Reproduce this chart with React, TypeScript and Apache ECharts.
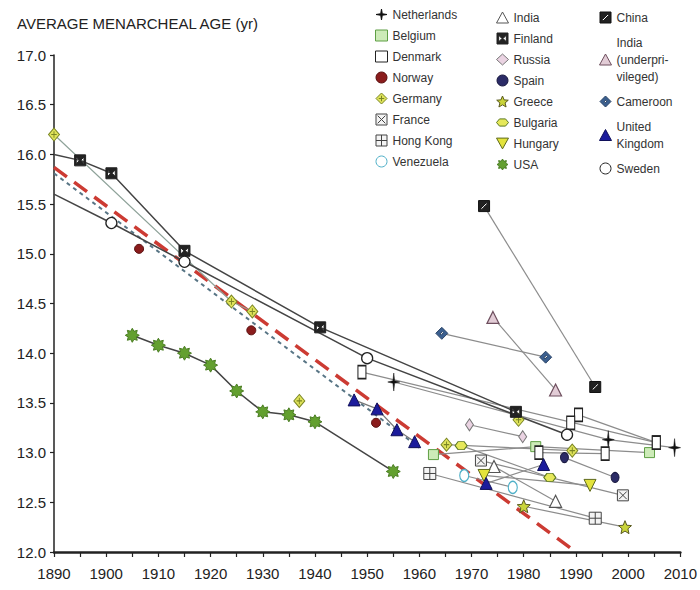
import React, { useEffect, useRef } from 'react';
import * as echarts from 'echarts';

// ---- data: [year, average menarcheal age] ----
const netherlands = [[1955.1, 13.71], [1996.2, 13.13], [2008.9, 13.05]];
const belgium = [[1962.7, 12.98], [1982.3, 13.06], [2004.1, 13.0]];
const denmarkA = [[1949, 13.81], [2005.4, 13.1]];
const denmarkB = [[1982.9, 13.0], [1995.6, 12.99]];
const denmarkC = [[1990.5, 13.38], [2005.4, 13.1]];
const denmarkD = [[1989, 13.3]];
const norway = [[1906.3, 15.05], [1927.8, 14.23], [1951.7, 13.3]];
const germanyA = [[1890, 16.2], [1924, 14.52], [1928, 14.42]];
const germanyB = [[1937, 13.52]];
const germanyC = [[1965.2, 13.08], [1989.3, 13.02]];
const germanyD = [[1979, 13.33]];
const france = [[1971.8, 12.92], [1999, 12.57]];
const hongKong = [[1962, 12.79], [1993.7, 12.34]];
const venezuela = [[1968.6, 12.77], [1977.9, 12.65]];
const india = [[1974.3, 12.86], [1986.1, 12.51]];
const finland = [[1895, 15.94], [1901, 15.81], [1915, 15.03], [1941, 14.26], [1978.5, 13.41]];
const finlandLead = [[1890, 16.0], [1895, 15.94]];
const russia = [[1969.6, 13.28], [1979.8, 13.16]];
const spain = [[1987.8, 12.95], [1997.5, 12.75]];
const greece = [[1980, 12.46], [1999.4, 12.25]];
const bulgaria = [[1968, 13.07], [1985, 12.75]];
const hungary = [[1972.4, 12.77], [1992.7, 12.67]];
const usa = [[1905, 14.18], [1910, 14.08], [1915, 14.0], [1920, 13.88], [1925, 13.62], [1930, 13.41], [1935, 13.38], [1940, 13.31], [1955, 12.81]];
const china = [[1972.4, 15.48], [1993.7, 13.66]];
const indiaUnder = [[1974.1, 14.36], [1986.1, 13.63]];
const cameroon = [[1964.3, 14.2], [1984.2, 13.96]];
const ukA = [[1947.5, 13.53], [1951.9, 13.44], [1955.7, 13.23], [1959.1, 13.11]];
const ukB = [[1972.8, 12.69], [1983.8, 12.88]];
const sweden = [[1901, 15.31], [1915, 14.92], [1950, 13.95], [1988.3, 13.18]];
const swedenLead = [[1890, 15.6], [1901, 15.31]];
const redTrend = [[1890, 15.87], [1990, 12.0]];
const blueTrend = [[1890, 15.81], [1960, 13.05]];

const legendCol1 = ['Netherlands', 'Belgium', 'Denmark', 'Norway', 'Germany', 'France', 'Hong Kong', 'Venezuela'];
const legendCol2 = ['India', 'Finland', 'Russia', 'Spain', 'Greece', 'Bulgaria', 'Hungary', 'USA'];
const legendCol3 = ['China', 'India (underprivileged)', 'Cameroon', 'United Kingdom', 'Sweden'];

const FONT = "'Liberation Sans', Arial, sans-serif";

function starPath(n: number, inner: number): string {
  const pts: string[] = [];
  for (let i = 0; i < 2 * n; i++) {
    const a = -Math.PI / 2 + (i * Math.PI) / n;
    const r = i % 2 === 0 ? 10 : 10 * inner;
    pts.push(`${(10 + r * Math.cos(a)).toFixed(2)} ${(10 + r * Math.sin(a)).toFixed(2)}`);
  }
  return 'path://M' + pts.join(' L') + ' Z';
}

const SYM: Record<string, { symbol: string; size: number | number[]; fill: string; stroke: string; bw?: number }> = {
  Netherlands: { symbol: 'path://M5 0 L5.7 4.3 L10 5 L5.7 5.7 L5 10 L4.3 5.7 L0 5 L4.3 4.3 Z', size: [12, 18], fill: '#111', stroke: '#111', bw: 0.5 },
  Belgium: { symbol: 'rect', size: 10, fill: '#cdebb8', stroke: '#5f9f45' },
  Denmark: { symbol: 'rect', size: [8, 13], fill: '#fff', stroke: '#222', bw: 1.3 },
  Norway: { symbol: 'circle', size: 9, fill: '#8a1c1c', stroke: '#5a1010' },
  Germany: { symbol: 'path://M5 0 L10 5 L5 10 L0 5 Z M5 2.5 V7.5 M2.5 5 H7.5', size: [11, 13], fill: '#dfe35a', stroke: '#7a8524' },
  France: { symbol: 'path://M0 0 H10 V10 H0 Z M1.5 1.5 L8.5 8.5 M8.5 1.5 L1.5 8.5', size: 11, fill: '#f4f4f4', stroke: '#444' },
  'Hong Kong': { symbol: 'path://M0 0 H10 V10 H0 Z M5 0 V10 M0 5 H10', size: 12, fill: '#f4f4f4', stroke: '#444' },
  Venezuela: { symbol: 'circle', size: [9, 12], fill: '#fff', stroke: '#4fb0c8', bw: 1.3 },
  India: { symbol: 'triangle', size: 12, fill: '#fff', stroke: '#555', bw: 1.2 },
  Finland: { symbol: 'path://M0 0 H10 V10 H0 Z M1.5 2 L1.5 8 L4.5 5 Z M8.5 2 L5.5 5 L8.5 8 Z', size: 11, fill: '#222', stroke: '#222' },
  Russia: { symbol: 'diamond', size: [8, 12], fill: '#ead3e2', stroke: '#777' },
  Spain: { symbol: 'circle', size: [8, 10], fill: '#2b2b66', stroke: '#1a1a40' },
  Greece: { symbol: starPath(5, 0.45), size: 13, fill: '#c9d43a', stroke: '#5a5a20' },
  Bulgaria: { symbol: 'path://M2.5 0 H7.5 L10 3 L7.5 6 H2.5 L0 3 Z', size: [12, 8], fill: '#e6e85a', stroke: '#5d7a20' },
  Hungary: { symbol: 'path://M0 0 H10 L5 9 Z', size: 12, fill: '#e3e33c', stroke: '#5f6a1c' },
  USA: { symbol: starPath(8, 0.62), size: 14, fill: '#63a02f', stroke: '#4a7d22' },
  China: { symbol: 'path://M0 0 H10 V10 H0 Z M2 7 L3 8 L8 3 L7 2 Z', size: 11, fill: '#222', stroke: '#111' },
  'India (underprivileged)': { symbol: 'triangle', size: 12, fill: '#e2ccd6', stroke: '#6e4f5e', bw: 1.2 },
  Cameroon: { symbol: 'path://M5 0 L10 5 L5 10 L0 5 Z M3.5 5.5 L4.5 6.5 L6.5 4.5 L5.5 3.5 Z', size: 12, fill: '#3b5f8f', stroke: '#2a4466' },
  'United Kingdom': { symbol: 'triangle', size: 12, fill: '#1c1c9c', stroke: '#10105a' },
  Sweden: { symbol: 'circle', size: 11, fill: '#fff', stroke: '#222', bw: 1.3 },
};

function country(name: string, data: number[][], lineColor = '#8c8c8c', lineWidth = 1.2): any {
  const s = SYM[name];
  return {
    type: 'line',
    name,
    data,
    symbol: s.symbol,
    symbolSize: s.size,
    symbolKeepAspect: false,
    itemStyle: { color: s.fill, borderColor: s.stroke, borderWidth: s.bw ?? 1 },
    lineStyle: { color: lineColor, width: lineWidth },
    emphasis: { disabled: true },
    z: 3,
  };
}

function lead(data: number[][], color: string, width: number): any {
  return { type: 'line', data, symbol: 'none', lineStyle: { color, width }, z: 2, emphasis: { disabled: true } };
}

function legendData(names: string[]) {
  return names.map((n) => ({ name: n, icon: SYM[n].symbol }));
}

function legendLabel(name: string): string {
  if (name === 'India (underprivileged)') return 'India\n(underpri-\nvileged)';
  if (name === 'United Kingdom') return 'United\nKingdom';
  return name;
}

const legendBase = {
  orient: 'vertical',
  padding: 0,
  itemWidth: 12,
  itemHeight: 11,
  selectedMode: false,
  formatter: legendLabel,
  textStyle: { fontFamily: FONT, fontSize: 12, lineHeight: 17, color: '#333' },
  itemStyle: { borderWidth: 1 },
};

export default function App() {
  const ref = useRef<HTMLDivElement>(null);
  useEffect(() => {
    const chart = echarts.init(ref.current!, null, { renderer: 'svg' });
    const option: any = {
      animation: false,
      backgroundColor: '#fff',
      title: {
        text: 'AVERAGE MENARCHEAL AGE (yr)',
        left: 12,
        top: 11,
        textStyle: { fontFamily: FONT, fontSize: 15, fontWeight: 'normal', color: '#222' },
      },
      legend: [
        { ...legendBase, left: 375, top: 6, itemGap: 4, data: legendData(legendCol1) },
        { ...legendBase, left: 496, top: 9, itemGap: 4, data: legendData(legendCol2) },
        { ...legendBase, left: 599, top: 9, itemGap: 8, data: legendData(legendCol3) },
      ],
      grid: { left: 54, right: 14, top: 55, bottom: 38 },
      xAxis: {
        type: 'value',
        min: 1890,
        max: 2010,
        interval: 5,
        axisLine: { show: true, lineStyle: { color: '#222', width: 2.5 } },
        axisTick: { show: true, length: 5, lineStyle: { color: '#222', width: 1.2 } },
        splitLine: { show: false },
        axisLabel: {
          fontFamily: FONT,
          fontSize: 15,
          color: '#222',
          margin: 14,
          formatter: (v: number) => (v % 10 === 0 ? String(v) : ''),
        },
      },
      yAxis: {
        type: 'value',
        min: 12,
        max: 17,
        interval: 0.5,
        axisLine: { show: true, lineStyle: { color: '#222', width: 1.5 } },
        axisTick: { show: true, length: 4, lineStyle: { color: '#222', width: 1.2 } },
        splitLine: { show: false },
        axisLabel: { fontFamily: FONT, fontSize: 15, color: '#222', margin: 8, formatter: (v: number) => v.toFixed(1) },
      },
      series: [
        { type: 'line', data: redTrend, symbol: 'none', lineStyle: { color: '#cc3b33', width: 3.5, type: [16, 9] }, z: 1, emphasis: { disabled: true } },
        { type: 'line', data: blueTrend, symbol: 'none', lineStyle: { color: '#587585', width: 2, type: [4, 4] }, z: 1, emphasis: { disabled: true } },
        lead(finlandLead, '#444', 1.5),
        lead(swedenLead, '#444', 1.5),
        country('Netherlands', netherlands, '#8c8c8c'),
        country('Belgium', belgium),
        country('Denmark', denmarkA),
        country('Denmark', denmarkB),
        country('Denmark', denmarkC),
        country('Denmark', denmarkD),
        { ...country('Norway', norway), lineStyle: { width: 0, opacity: 0 } },
        country('Germany', germanyA, '#8fa39a', 1.2),
        country('Germany', germanyB),
        country('Germany', germanyC),
        country('Germany', germanyD),
        country('France', france),
        country('Hong Kong', hongKong),
        country('Venezuela', venezuela),
        country('India', india),
        country('Finland', finland, '#444', 1.5),
        country('Russia', russia),
        country('Spain', spain),
        country('Greece', greece),
        country('Bulgaria', bulgaria),
        country('Hungary', hungary),
        country('USA', usa, '#444', 1.5),
        country('China', china),
        country('India (underprivileged)', indiaUnder),
        country('Cameroon', cameroon),
        country('United Kingdom', ukA, '#777', 1.2),
        country('United Kingdom', ukB),
        country('Sweden', sweden, '#444', 1.5),
      ],
    };
    chart.setOption(option);
    return () => chart.dispose();
  }, []);
  return <div ref={ref} style={{ position: 'absolute', left: 0, top: 0, width: 700, height: 590 }} />;
}
